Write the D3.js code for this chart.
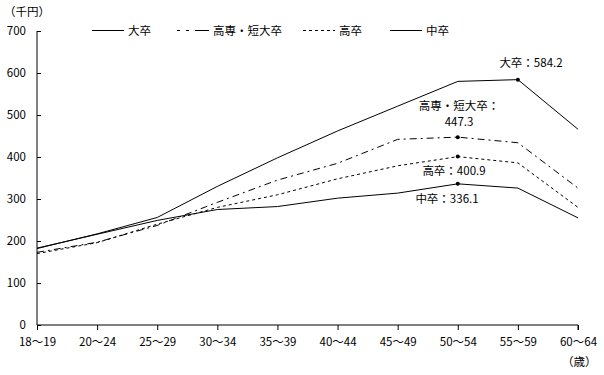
<!DOCTYPE html>
<html>
<head>
<meta charset="utf-8">
<script src="https://d3js.org/d3.v7.min.js"></script>
<style>
  body { margin: 0; background: #fff; }
  svg text { font-family: "Noto Sans CJK JP", "DejaVu Sans", sans-serif; font-size: 11.5px; fill: #000; }
</style>
</head>
<body>
<div id="chart"></div>
<script>
// age groups (x categories)
const ages = ["18～19", "20～24", "25～29", "30～34", "35～39", "40～44", "45～49", "50～54", "55～59", "60～64"];
const yTicks = [0, 100, 200, 300, 400, 500, 600, 700];

// monthly wages, thousand yen
const daisotsu = [182, 217, 256, 330, 398, 462, 521, 580, 584.2, 466];
const tandai   = [173, 197, 237, 292, 345, 385, 442, 447.3, 434, 326];
const kousotsu = [170, 196, 240, 280, 310, 348, 379, 400.9, 386, 280];
const chuusotsu = [183, 216, 249, 275, 282, 302, 314, 336.1, 326, 255];

const series = [
  { name: "大卒", values: daisotsu, dash: null, peak: 8 },
  { name: "高専・短大卒", values: tandai, dash: "7,4,2,4", peak: 7 },
  { name: "高卒", values: kousotsu, dash: "3,3", peak: 7 },
  { name: "中卒", values: chuusotsu, dash: null, peak: 7 }
];

const width = 604, height = 375;
const margin = { top: 31, right: 26, bottom: 50, left: 37 };

const svg = d3.select("#chart").append("svg")
  .attr("width", width)
  .attr("height", height);

const x = d3.scalePoint()
  .domain(ages)
  .range([margin.left, width - margin.right]);

const y = d3.scaleLinear()
  .domain([0, 700])
  .range([height - margin.bottom, margin.top]);

// axes
const xAxis = svg.append("g")
  .attr("transform", `translate(0,${height - margin.bottom})`)
  .call(d3.axisBottom(x).tickSize(5).tickPadding(8));
xAxis.select(".domain").attr("d", `M${margin.left},0H${width - margin.right}V5`);

const yAxis = svg.append("g")
  .attr("transform", `translate(${margin.left},0)`)
  .call(d3.axisLeft(y).tickValues(yTicks).tickSize(-4).tickPadding(11));
yAxis.select(".domain").attr("d", `M0,${y(0)}V${y(700)}`);

svg.selectAll(".tick text").style("font-size", "11.5px").style("font-family", "'Noto Sans CJK JP', sans-serif");
svg.selectAll(".domain, .tick line").attr("stroke", "#000");

// lines
const line = d3.line()
  .x((d, i) => x(ages[i]))
  .y(d => y(d));

svg.selectAll(".series")
  .data(series)
  .enter()
  .append("path")
  .attr("d", d => line(d.values))
  .attr("fill", "none")
  .attr("stroke", "#000")
  .attr("stroke-width", 1)
  .attr("stroke-dasharray", d => d.dash);

// peak markers
svg.selectAll(".peak")
  .data(series)
  .enter()
  .append("circle")
  .attr("cx", d => x(ages[d.peak]))
  .attr("cy", d => y(d.values[d.peak]))
  .attr("r", 2)
  .attr("fill", "#000");

// annotations
const notes = [
  { lines: ["大卒：584.2"], x: 531, y: 67 },
  { lines: ["高専・短大卒：", "447.3"], x: 459, y: 110 },
  { lines: ["高卒：400.9"], x: 454, y: 175 },
  { lines: ["中卒：336.1"], x: 447, y: 203 }
];
notes.forEach(n => {
  const t = svg.append("text").attr("text-anchor", "middle");
  n.lines.forEach((s, i) => {
    t.append("tspan").attr("x", n.x).attr("y", n.y + i * 16).text(s);
  });
});

// legend
const legend = [
  { name: "大卒", dash: null, x: 92 },
  { name: "高専・短大卒", dash: "3,6,3,6,14,20", x: 177 },
  { name: "高卒", dash: "3,3", x: 303 },
  { name: "中卒", dash: null, x: 390 }
];
legend.forEach(l => {
  svg.append("line")
    .attr("x1", l.x).attr("x2", l.x + 32)
    .attr("y1", 30.5).attr("y2", 30.5)
    .attr("stroke", "#000")
    .attr("stroke-dasharray", l.dash);
  svg.append("text")
    .attr("x", l.x + 36).attr("y", 35)
    .text(l.name);
});

// unit labels
svg.append("text").attr("x", 4).attr("y", 16).text("（千円）");
svg.append("text").attr("x", 562).attr("y", 366).text("（歳）");
</script>
</body>
</html>
